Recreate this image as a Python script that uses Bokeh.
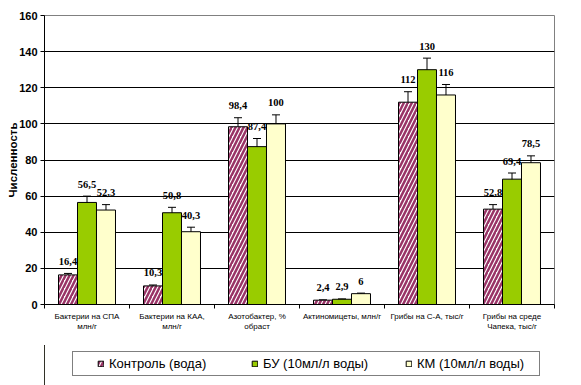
from bokeh.plotting import figure
from bokeh.layouts import column
from bokeh.models import (ColumnDataSource, Range1d, LinearAxis,
                          FixedTicker, Whisker, TeeHead, LabelSet, Legend, LegendItem)
from bokeh.transform import dodge
from bokeh.embed import file_html
from bokeh.resources import INLINE

categories = ["Бактерии на СПА\nмлн/г", "Бактерии на КАА,\nмлн/г", "Азотобактер, %\nобраст",
              "Актиномицеты, млн/г", "Грибы на С-А, тыс/г", "Грибы на среде\nЧапека, тыс/г"]
series_names = ["Контроль (вода)", "БУ (10мл/л воды)", "КМ (10мл/л воды)"]
control = [16.4, 10.3, 98.4, 2.4, 112, 52.8]
bu = [56.5, 50.8, 87.4, 2.9, 130, 69.4]
km = [52.3, 40.3, 100, 6, 116, 78.5]
err_control = [0.8, 0.5, 5.0, 0.2, 5.8, 2.5]
err_bu = [3.5, 3.0, 4.5, 0.2, 6.4, 3.4]
err_km = [3.0, 2.5, 5.0, 0.3, 5.8, 3.8]
y_ticks = [0, 20, 40, 60, 80, 100, 120, 140, 160]

FONT = "Liberation Sans"
BW = 0.2235
n = len(categories)
centers = [i + 0.5 for i in range(n)]
bounds = list(range(n + 1))

STYLE_C = dict(fill_color="white", hatch_pattern="/", hatch_color="#993366", hatch_weight=2.5,
               hatch_scale=8, line_color="black", line_width=1)
STYLE_B = dict(fill_color="#99CC00", line_color="black", line_width=1)
STYLE_K = dict(fill_color="#FFFFCC", line_color="black", line_width=1)

def fmt(v):
    return ("%g" % v).replace(".", ",")

p = figure(width=581, height=345, x_range=Range1d(0, n),
           y_range=Range1d(0, 160), x_axis_location=None, output_backend="svg",
           toolbar_location=None, min_border_left=44, min_border_right=27,
           min_border_top=15, min_border_bottom=41)
p.background_fill_color = "white"
p.border_fill_color = "white"
p.outline_line_color = "#808080"
p.outline_line_width = 1

p.xgrid.visible = False
p.ygrid.ticker = FixedTicker(ticks=y_ticks[1:-1])
p.ygrid.grid_line_color = "black"
p.ygrid.grid_line_width = 1

yax = p.yaxis[0]
yax.ticker = FixedTicker(ticks=y_ticks)
yax.major_tick_out = 4
yax.major_tick_in = 0
yax.minor_tick_line_color = None
yax.axis_line_color = "black"
yax.major_tick_line_color = "black"
yax.major_label_text_font = FONT
yax.major_label_text_font_size = "11px"
yax.major_label_text_font_style = "bold"
yax.major_label_text_color = "black"
yax.major_label_standoff = 3
yax.axis_label = "Численность"
yax.axis_label_text_font = FONT
yax.axis_label_text_font_size = "11.5px"
yax.axis_label_text_font_style = "bold"
yax.axis_label_text_color = "black"
yax.axis_label_standoff = -3

cat_axis = LinearAxis(ticker=FixedTicker(ticks=centers, minor_ticks=bounds),
                      major_label_overrides={c: lab for c, lab in zip(centers, categories)},
                      major_tick_line_color=None, major_tick_out=4, major_tick_in=0,
                      minor_tick_line_color="black", minor_tick_out=4, minor_tick_in=0,
                      axis_line_color="black",
                      major_label_text_font=FONT, major_label_text_font_size="8px",
                      major_label_text_color="black", major_label_standoff=3)
p.add_layout(cat_axis, "below")

src = ColumnDataSource(dict(
    x=centers, control=control, bu=bu, km=km,
    c_up=[v + e for v, e in zip(control, err_control)], c_lo=[v - e for v, e in zip(control, err_control)],
    b_up=[v + e for v, e in zip(bu, err_bu)], b_lo=[v - e for v, e in zip(bu, err_bu)],
    k_up=[v + e for v, e in zip(km, err_km)], k_lo=[v - e for v, e in zip(km, err_km)],
    c_lab=[fmt(v) for v in control], b_lab=[fmt(v) for v in bu], k_lab=[fmt(v) for v in km],
))

p.vbar(x=dodge("x", -BW), top="control", width=BW, source=src, **STYLE_C)
p.vbar(x=dodge("x", 0), top="bu", width=BW, source=src, **STYLE_B)
p.vbar(x=dodge("x", BW), top="km", width=BW, source=src, **STYLE_K)

for off, up, lo, lab in [(-BW, "c_up", "c_lo", "c_lab"), (0, "b_up", "b_lo", "b_lab"), (BW, "k_up", "k_lo", "k_lab")]:
    w = Whisker(base=dodge("x", off), upper=up, lower=lo, source=src,
                line_color="black", line_width=1,
                upper_head=TeeHead(size=8, line_color="black", line_width=1),
                lower_head=TeeHead(size=8, line_color="black", line_width=1))
    p.add_layout(w)
    ls = LabelSet(x=dodge("x", off), y=up, text=lab, source=src,
                  text_align="center", text_baseline="middle", y_offset=12,
                  text_font=FONT, text_font_size="10.5px", text_font_style="bold",
                  text_color="black")
    p.add_layout(ls)

# legend strip below the chart (its own renderers use the same data, kept out of its view)
q = figure(width=581, height=40, x_range=Range1d(n + 10, n + 11), y_range=Range1d(0, 1),
           x_axis_location=None, y_axis_location=None, output_backend="svg",
           toolbar_location=None, min_border=0, min_border_left=0, min_border_right=0,
           min_border_top=0, min_border_bottom=0)
q.outline_line_color = None
q.background_fill_color = "white"
q.border_fill_color = "white"
q.grid.visible = False
lc = q.vbar(x=dodge("x", -BW), top="control", width=BW, source=src, **STYLE_C)
lb = q.vbar(x=dodge("x", 0), top="bu", width=BW, source=src, **STYLE_B)
lk = q.vbar(x=dodge("x", BW), top="km", width=BW, source=src, **STYLE_K)

legend = Legend(items=[LegendItem(label=series_names[0], renderers=[lc], index=0),
                       LegendItem(label=series_names[1], renderers=[lb], index=0),
                       LegendItem(label=series_names[2], renderers=[lk], index=0)],
                orientation="horizontal", location=(28, 9), glyph_width=7, glyph_height=7,
                label_standoff=5, label_width=118, spacing=24, padding=4, margin=0,
                label_height=14, border_line_color="black", border_line_width=1,
                background_fill_color="white", background_fill_alpha=1,
                title=" ", title_location="left", title_text_font_size="1px", title_standoff=19,
                label_text_font=FONT, label_text_font_size="13px", label_text_color="black")
q.add_layout(legend, "center")

layout = column(p, q, spacing=0)
open("out.html", "w").write(file_html(layout, INLINE))
